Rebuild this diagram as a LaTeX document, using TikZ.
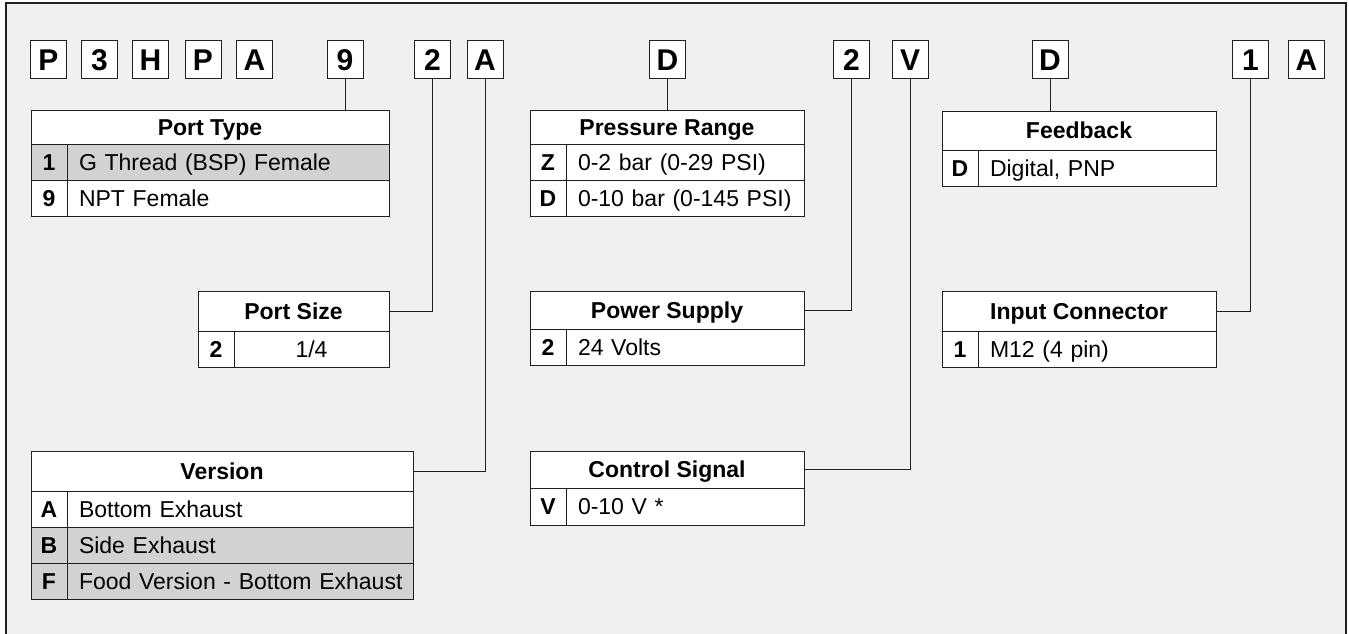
\documentclass[tikz,border=0pt]{standalone}
\usepackage{fontspec}
\setmainfont{Liberation Sans}
\usepackage{tikz}
\usetikzlibrary{positioning}
\definecolor{panel}{RGB}{239,240,242}
\definecolor{shade}{RGB}{209,210,212}
\definecolor{ink}{RGB}{35,31,32}
\newcommand{\cellfont}{\fontsize{23}{26}\selectfont}
\newcommand{\codefont}{\fontsize{30}{32}\selectfont\bfseries}
\tikzset{every node/.style={inner sep=0pt, outer sep=0pt},
         cell/.style={draw=ink, fill=white, line width=1pt,
           text height=16.5pt, text depth=0pt},
         code/.style={cell, minimum width=36pt, minimum height=37pt,
           font=\codefont, text height=21.5pt},
         head/.style={cell, font=\cellfont\bfseries},
         key/.style={cell, minimum width=36pt, minimum height=36pt,
           font=\cellfont\bfseries},
         val/.style={cell, minimum height=36pt, inner xsep=12pt,
           align=left, font=\cellfont},
         grey/.style={fill=shade},
         wire/.style={draw=ink, line width=1pt}}

\begin{document}
\begin{tikzpicture}[x=1pt, y=-1pt]
  \useasboundingbox[fill=white] (0,0) rectangle (1349,634);
  \fill[panel] (6,3) rectangle (1346,650);
  \draw[ink, line width=2.5pt] (6,650) -- (6,3) -- (1346,3) -- (1346,650);

  % model code
  \node[code] (kP)    at (48.5,59.5)  {P};
  \node[code] (k3)    at (99.5,59.5)  {3};
  \node[code] (kH)    at (150.5,59.5) {H};
  \node[code] (kP2)   at (203,59.5)   {P};
  \node[code] (kA)    at (254.5,59.5) {A};
  \node[code] (kPort) at (345,59.5)   {9};
  \node[code] (kSize) at (432.5,59.5) {2};
  \node[code] (kVer)  at (485,59.5)   {A};
  \node[code] (kPres) at (667.5,59.5) {D};
  \node[code] (kPow)  at (851.5,59.5) {2};
  \node[code] (kSig)  at (910,59.5)   {V};
  \node[code] (kFb)   at (1050,59.5)  {D};
  \node[code] (kCon)  at (1250.5,59.5) {1};
  \node[code] (kEnd)  at (1306.5,59.5) {A};

  % port type
  \node[head, minimum width=358pt, minimum height=34pt, anchor=north west] (pt) at (31,110) {Port Type};
  \node[key, grey, below right=0pt and 0pt of pt.south west] (pt1k) {1};
  \node[val, grey, text width=298pt, right=0pt of pt1k] (pt1v) {G Thread (BSP) Female};
  \node[key, below=0pt of pt1k] (pt9k) {9};
  \node[val, text width=298pt, right=0pt of pt9k] (pt9v) {NPT Female};

  % port size
  \node[head, minimum width=191pt, minimum height=40pt, anchor=north west] (ps) at (198,291) {Port Size};
  \node[key, below right=0pt and 0pt of ps.south west] (ps2k) {2};
  \node[val, text width=131pt, align=center, right=0pt of ps2k] (ps2v) {1/4};

  % version
  \node[head, minimum width=382pt, minimum height=40pt, anchor=north west] (ver) at (31,451) {Version};
  \node[key, below right=0pt and 0pt of ver.south west] (verAk) {A};
  \node[val, text width=322pt, right=0pt of verAk] (verAv) {Bottom Exhaust};
  \node[key, grey, below=0pt of verAk] (verBk) {B};
  \node[val, grey, text width=322pt, right=0pt of verBk] (verBv) {Side Exhaust};
  \node[key, grey, below=0pt of verBk] (verFk) {F};
  \node[val, grey, text width=322pt, right=0pt of verFk] (verFv) {\mbox{Food Version - Bottom Exhaust}};

  % pressure range
  \node[head, minimum width=274pt, minimum height=34pt, anchor=north west] (pr) at (530,110) {Pressure Range};
  \node[key, below right=0pt and 0pt of pr.south west] (prZk) {Z};
  \node[val, text width=214pt, right=0pt of prZk] (prZv) {0-2 bar (0-29 PSI)};
  \node[key, below=0pt of prZk] (prDk) {D};
  \node[val, text width=214pt, right=0pt of prDk] (prDv) {0-10 bar (0-145 PSI)};

  % power supply
  \node[head, minimum width=274pt, minimum height=38pt, anchor=north west] (pw) at (530,291) {Power Supply};
  \node[key, below right=0pt and 0pt of pw.south west] (pw2k) {2};
  \node[val, text width=214pt, right=0pt of pw2k] (pw2v) {24 Volts};

  % control signal
  \node[head, minimum width=274pt, minimum height=37pt, anchor=north west] (cs) at (530,451) {Control Signal};
  \node[key, minimum height=37pt, below right=0pt and 0pt of cs.south west] (csVk) {V};
  \node[val, minimum height=37pt, text width=214pt, right=0pt of csVk] (csVv) {0-10 V *};

  % feedback
  \node[head, minimum width=274pt, minimum height=39pt, anchor=north west] (fb) at (942,111) {Feedback};
  \node[key, below right=0pt and 0pt of fb.south west] (fbDk) {D};
  \node[val, text width=214pt, right=0pt of fbDk] (fbDv) {Digital, PNP};

  % input connector
  \node[head, minimum width=274pt, minimum height=40pt, anchor=north west] (ic) at (942,291) {Input Connector};
  \node[key, below right=0pt and 0pt of ic.south west] (ic1k) {1};
  \node[val, text width=214pt, right=0pt of ic1k] (ic1v) {M12 (4 pin)};

  % leaders
  \draw[wire] (kPort.south) -- (kPort.south |- pt.north);
  \draw[wire] (kSize.south) |- (ps.east);
  \draw[wire] (kVer.south) |- (ver.east);
  \draw[wire] (kPres.south) -- (kPres.south |- pr.north);
  \draw[wire] (kPow.south) |- (pw.east);
  \draw[wire] (kSig.south) |- (cs.east);
  \draw[wire] (kFb.south) -- (kFb.south |- fb.north);
  \draw[wire] (kCon.south) |- (ic.east);
\end{tikzpicture}
\end{document}
